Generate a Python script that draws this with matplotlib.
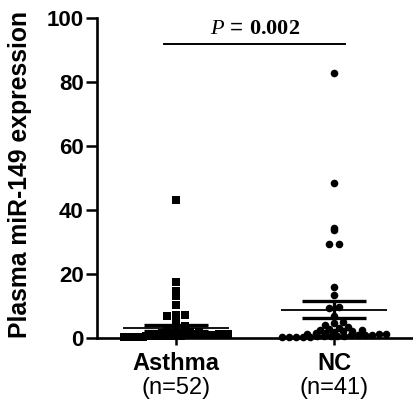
import matplotlib
matplotlib.use("Agg")
import matplotlib.pyplot as plt
import numpy as np

plt.rcParams["font.family"] = ["Liberation Sans", "DejaVu Sans"]
plt.rcParams["mathtext.fontset"] = "custom"
plt.rcParams["mathtext.rm"] = "Liberation Serif"
plt.rcParams["mathtext.it"] = "Liberation Serif:italic"
plt.rcParams["mathtext.bf"] = "Liberation Serif:bold"

groups = ["Asthma", "NC"]
group_n = ["(n=52)", "(n=41)"]

asthma = [43.0, 17.5, 14.5, 13.2, 10.2, 7.2, 7.2, 6.8,
          4.5, 3.8, 3.2, 2.8,
          1.8, 1.7, 1.6, 1.5, 1.4, 1.3,
          1.2, 1.2, 1.1, 1.1, 1.0, 1.0, 1.0, 0.9, 0.9, 0.9, 0.9,
          0.8, 0.8, 0.8, 0.8, 0.7, 0.7, 0.7, 0.7, 0.6, 0.6, 0.6, 0.6,
          0.5, 0.5, 0.5, 0.5, 0.4, 0.4, 0.4, 0.3, 0.3, 0.2, 0.2]
nc = [82.8, 48.3, 34.4, 33.8, 29.2, 29.4, 15.8, 13.4, 9.4, 9.5, 6.7,
      5.0, 4.5, 4.0, 3.5, 3.2, 2.8, 2.6,
      2.4, 2.2, 2.0, 1.8, 1.6, 1.4, 1.3,
      1.2, 1.1, 1.0, 0.9, 0.8, 0.8, 0.7, 0.6, 0.6, 0.5, 0.5, 0.4, 0.4,
      0.3, 0.3, 0.2]

p_text = r"$\mathit{P}$ = $\mathbf{0.002}$"
yticks = [0, 20, 40, 60, 80, 100]


def swarm_offsets(vals, bin_h=1.3, step=0.058, half_w=0.33):
    vals = np.asarray(vals)
    offs = np.zeros(len(vals))
    bins = np.floor(vals / bin_h).astype(int)
    for b in np.unique(bins):
        idx = np.where(bins == b)[0]
        idx = idx[np.argsort(vals[idx])]
        n = len(idx)
        if n == 1:
            continue
        s = min(step, 2 * half_w / (n - 1))
        offs[idx] = (np.arange(n) - (n - 1) / 2) * s
    return offs


fig = plt.figure(figsize=(4.13, 4.12), dpi=100)
ax = fig.add_axes([0.235, 0.18, 0.765, 0.776])

markers = ["s", "o"]
sizes = [26, 30]
for i, vals in enumerate([asthma, nc]):
    xpos = i + 1
    vals = np.asarray(vals)
    ax.scatter(xpos + swarm_offsets(vals), vals, marker=markers[i],
               s=sizes[i], color="black", linewidths=0, zorder=3, clip_on=False)
    m = vals.mean()
    sem = vals.std(ddof=1) / np.sqrt(len(vals))
    ax.hlines(m, xpos - 0.335, xpos + 0.335, color="black", lw=1.3, zorder=4)
    ax.hlines([m - sem, m + sem], xpos - 0.205, xpos + 0.205, color="black",
              lw=2.4, zorder=4)
    ax.vlines(xpos, m - sem, m + sem, color="black", lw=2.4, zorder=4)

# significance bar
ax.plot([0.925, 2.07], [92, 92], color="black", lw=1.4, clip_on=False)
ax.text(1.5, 93.6, p_text, ha="center", va="bottom", fontsize=16)

ax.set_xlim(0.5, 2.5)
ax.set_ylim(0, 100)
ax.set_yticks(yticks)
ax.set_yticklabels([str(t) for t in yticks], fontsize=16, fontweight="bold")
ax.set_xticks([1, 2])
ax.set_xticklabels([])
ax.tick_params(axis="y", length=8, width=1.8, pad=1.5)
ax.tick_params(axis="x", length=5, width=1.8)

for i, (g, n) in enumerate(zip(groups, group_n)):
    ax.text(i + 1, -0.1, g, transform=ax.get_xaxis_transform(), ha="center",
            va="baseline", fontsize=17, fontweight="bold")
    ax.text(i + 1, -0.176, n, transform=ax.get_xaxis_transform(), ha="center",
            va="baseline", fontsize=17)

ax.set_ylabel("Plasma miR-149 expression", fontsize=17.8, fontweight="bold")
ax.yaxis.set_label_coords(-0.205, 0.51)

for sp in ("top", "right"):
    ax.spines[sp].set_visible(False)
for sp in ("left", "bottom"):
    ax.spines[sp].set_linewidth(1.9)

fig.savefig("out.png", dpi=100, facecolor="white")
